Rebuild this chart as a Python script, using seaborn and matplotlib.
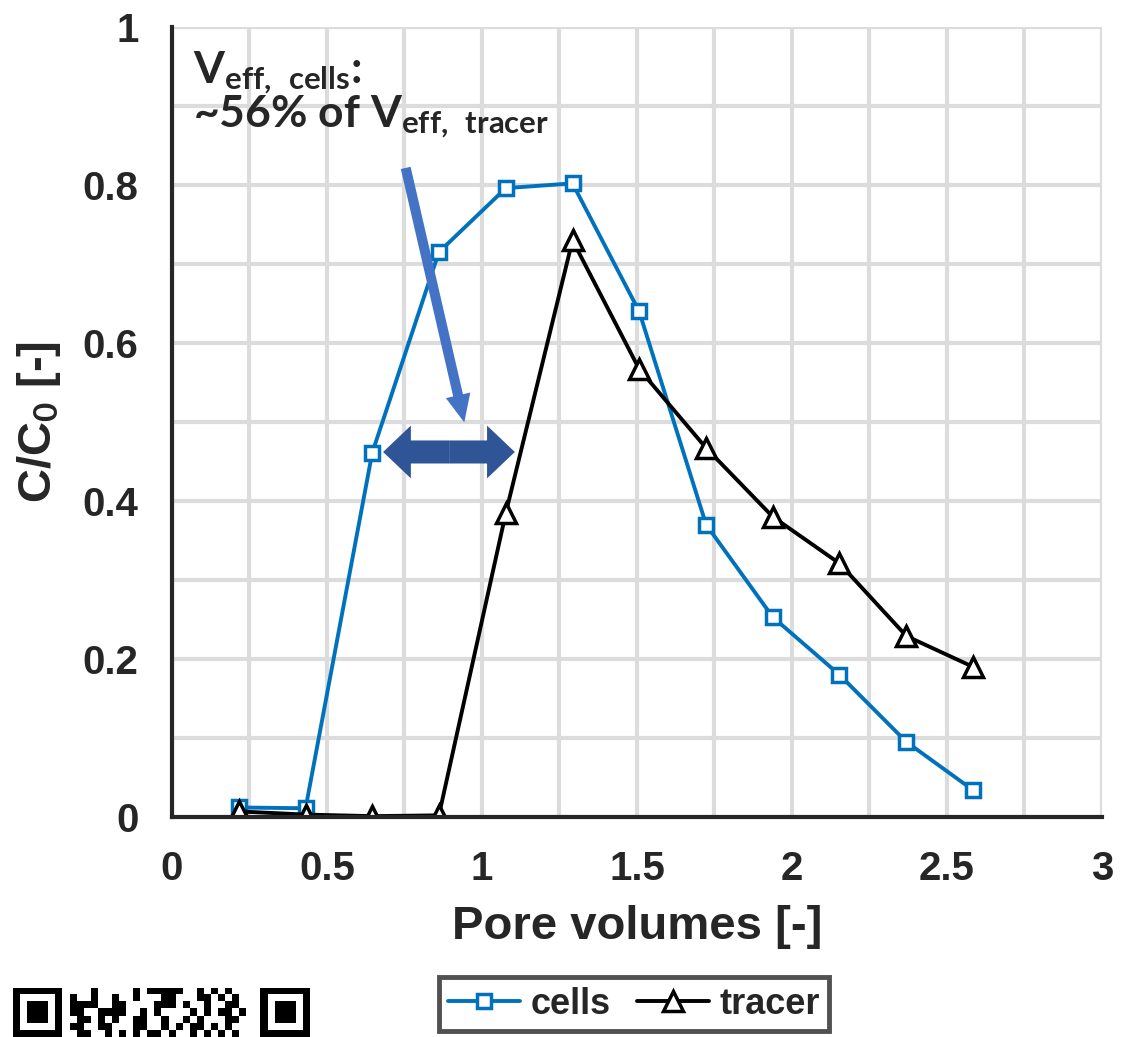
import numpy as np
import pandas as pd
import seaborn as sns
import matplotlib
matplotlib.use("Agg")
import matplotlib.pyplot as plt
from matplotlib.patches import FancyArrowPatch
from matplotlib.ticker import MultipleLocator, FuncFormatter

# values
pore_volumes = [0.215, 0.431, 0.646, 0.861, 1.077, 1.292, 1.507, 1.723, 1.938, 2.153, 2.369, 2.584]
cells = [0.012, 0.011, 0.461, 0.715, 0.796, 0.802, 0.640, 0.370, 0.253, 0.180, 0.095, 0.034]
tracer = [0.007, 0.003, 0.001, 0.002, 0.385, 0.730, 0.567, 0.467, 0.380, 0.321, 0.229, 0.190]

# strip of the code printed under the figure (7 rows visible)
finder = ["1111111", "1000001", "1011101", "1011101", "1011101", "1000001", "1111111"]
code_mid = [
    "00010000010111110010101000",
    "10010010010001100011010100",
    "11110011000011101001001100",
    "11001111001010000101011010",
    "01101010011001001010001100",
    "11001100011001010110101000",
    "01100101010110100101010100",
]

sns.set_style("white")
plt.rcParams["font.family"] = ["Liberation Sans", "DejaVu Sans"]
plt.rcParams["font.weight"] = "bold"
plt.rcParams["axes.labelweight"] = "bold"
plt.rcParams["mathtext.fontset"] = "custom"
plt.rcParams["mathtext.bf"] = "Lato:bold"
plt.rcParams["mathtext.rm"] = "Lato:bold"
plt.rcParams["mathtext.default"] = "bf"

fig = plt.figure(figsize=(11.27, 10.37), dpi=100)
ax = fig.add_axes([0.1526, 0.2122, 0.8252, 0.7618])

df = pd.DataFrame({"pv": pore_volumes, "cells": cells, "tracer": tracer})

sns.lineplot(data=df, x="pv", y="cells", ax=ax, color="#0072BD", lw=2.8,
             marker="s", markersize=10, markerfacecolor="white",
             markeredgecolor="#0072BD", markeredgewidth=2.5, label="cells", zorder=3)
sns.lineplot(data=df, x="pv", y="tracer", ax=ax, color="black", lw=2.8,
             marker="^", markersize=14, markerfacecolor="white",
             markeredgecolor="black", markeredgewidth=2.5, label="tracer", zorder=4)

ax.set_xlim(0, 3)
ax.set_ylim(0, 1)
ax.xaxis.set_major_locator(MultipleLocator(0.5))
ax.xaxis.set_minor_locator(MultipleLocator(0.25))
ax.yaxis.set_major_locator(MultipleLocator(0.2))
ax.yaxis.set_minor_locator(MultipleLocator(0.1))
fmt = FuncFormatter(lambda v, p: f"{v:g}")
ax.xaxis.set_major_formatter(fmt)
ax.yaxis.set_major_formatter(fmt)
ax.grid(which="both", color="#DCDCDC", lw=3)
ax.set_axisbelow(True)
ax.tick_params(which="major", direction="out", length=10, width=3, color="#262626",
               labelsize=29, labelcolor="#262626", pad=14)
ax.tick_params(which="minor", length=0)
for s in ["top", "right"]:
    ax.spines[s].set_visible(False)
for s in ["left", "bottom"]:
    ax.spines[s].set_color("#262626")
    ax.spines[s].set_linewidth(3)
    ax.spines[s].set_zorder(5)

ax.set_xlabel("Pore volumes [-]", fontsize=34, color="#262626", labelpad=12)
ax.set_ylabel(r"C/C$_\mathbf{0}$ [-]", fontsize=34, color="#262626", labelpad=14)

# annotation text
ax.text(0.068, 0.930, r"V$_\mathbf{eff,\ cells}$:", fontsize=32, family="Lato",
        fontweight="bold", va="baseline", ha="left", zorder=6)
ax.text(0.068, 0.874, r"~56% of V$_\mathbf{eff,\ tracer}$", fontsize=32, family="Lato",
        fontweight="bold", va="baseline", ha="left", zorder=6)

# slanted arrow
ax.add_patch(FancyArrowPatch((0.752, 0.825), (0.945, 0.496),
                             arrowstyle="simple,head_width=0.9,head_length=1.0,tail_width=0.36",
                             mutation_scale=20, color="#4472C4", lw=0, zorder=6))
# double arrow
mid = (0.894, 0.462)
for end in [(0.681, 0.462), (1.106, 0.462)]:
    ax.add_patch(FancyArrowPatch(mid, end,
                                 arrowstyle="simple,head_width=1.9,head_length=1.0,tail_width=0.83",
                                 mutation_scale=20, color="#2F5597", lw=0, zorder=6,
                                 shrinkA=0, shrinkB=0))

leg = ax.legend(loc="center", bbox_to_anchor=(0.5626, 0.0318), bbox_transform=fig.transFigure,
                ncol=2, fontsize=26, frameon=True, fancybox=False, handlelength=2.0,
                columnspacing=0.7, handletextpad=0.3, borderpad=0.25)
leg.get_frame().set_edgecolor("#262626")
leg.get_frame().set_linewidth(3.5)

# code strip at the bottom left
rows = [finder[i] + "0" + code_mid[i] + "0" + finder[i] for i in range(7)]
bits = np.array([[int(c) for c in r] for r in rows])
qax = fig.add_axes([13 / 1127, 0, 297 / 1127, 49.5 / 1037])
qax.imshow(bits, cmap="gray_r", aspect="auto", interpolation="nearest")
qax.axis("off")

fig.savefig("out.png", dpi=100)
